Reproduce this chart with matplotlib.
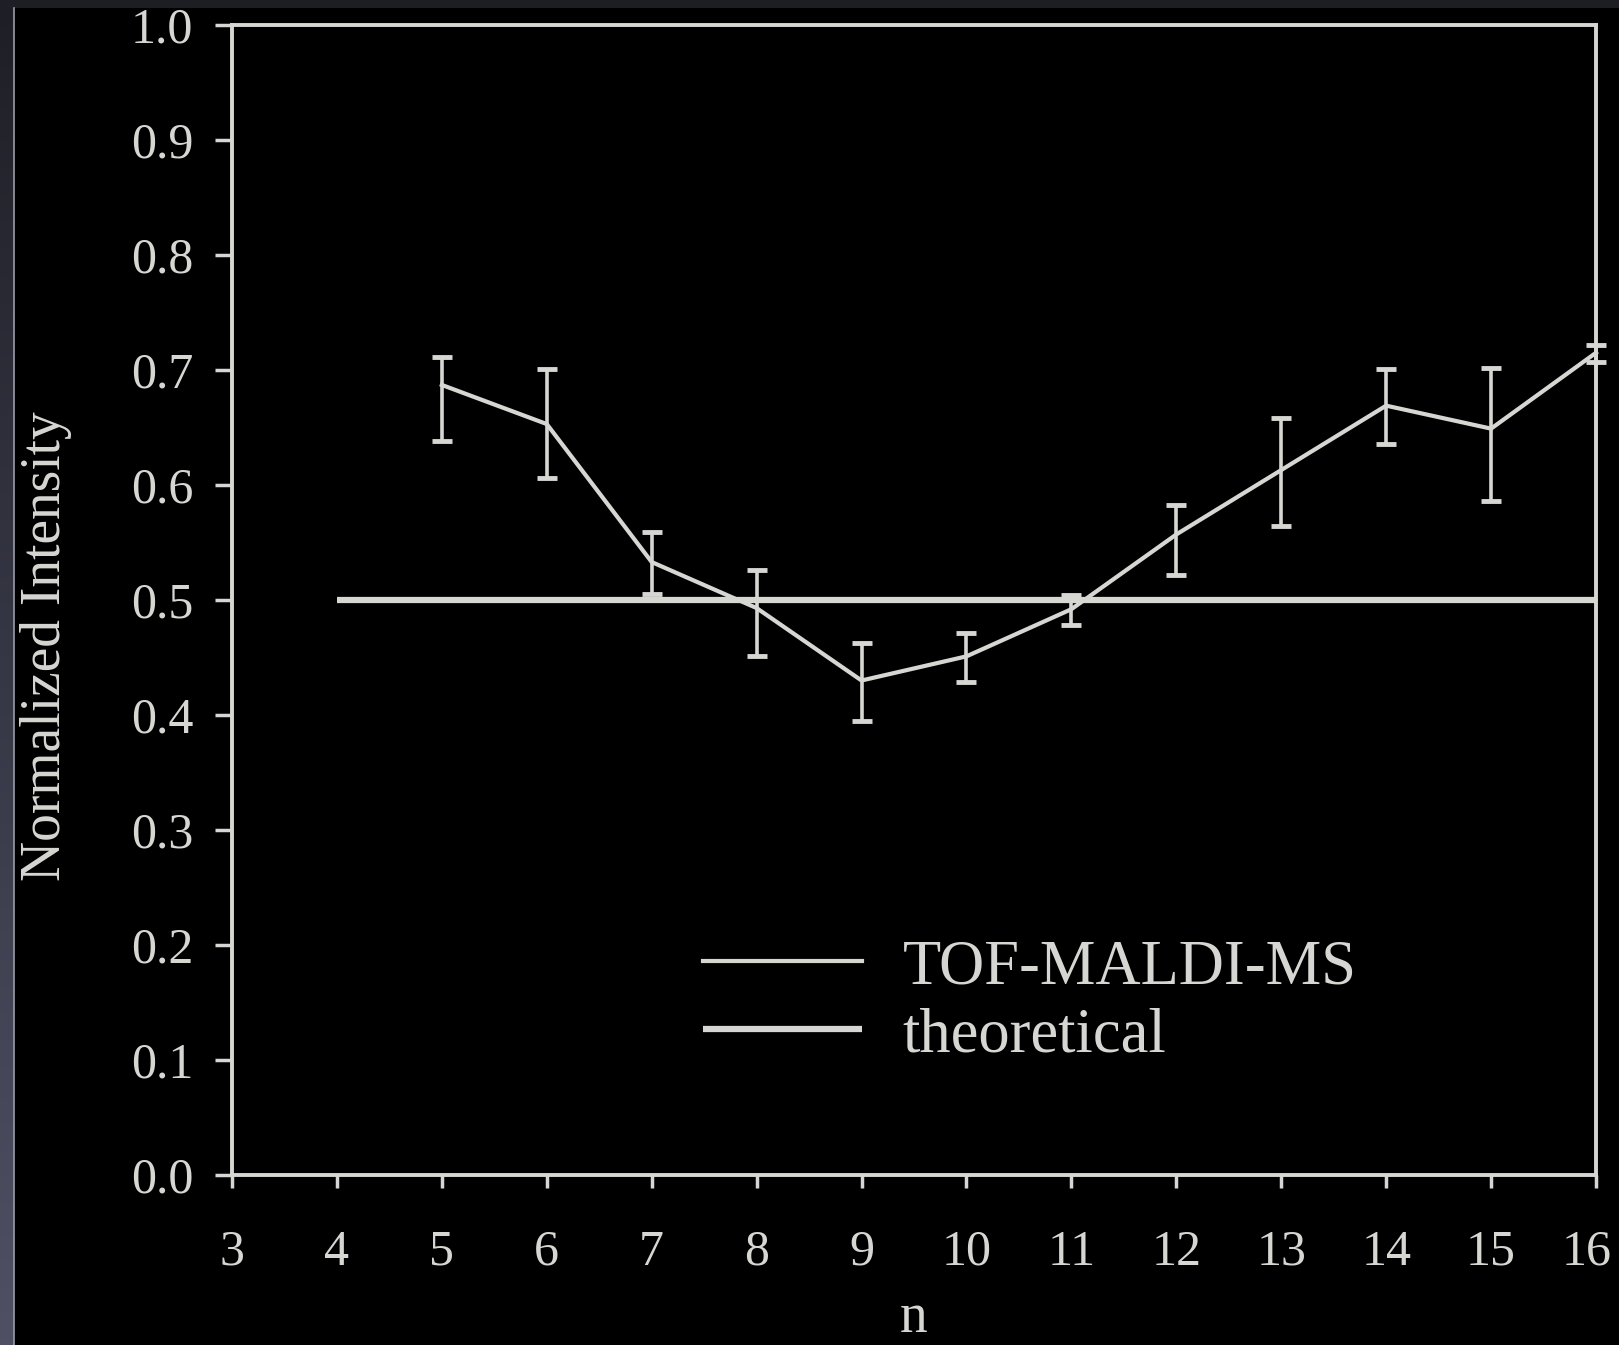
import matplotlib
matplotlib.use("Agg")
import matplotlib.pyplot as plt
from matplotlib.colors import LinearSegmentedColormap
from matplotlib.transforms import ScaledTranslation
import numpy as np

# measured normalized intensity vs. cluster size n
n_values = [5, 6, 7, 8, 9, 10, 11, 12, 13, 14, 15, 16]
intensity = [0.687, 0.653, 0.533, 0.493, 0.430, 0.451, 0.492, 0.557, 0.613, 0.669, 0.649, 0.715]
err_low = [0.049, 0.047, 0.028, 0.042, 0.035, 0.022, 0.014, 0.035, 0.049, 0.033, 0.063, 0.008]
err_high = [0.024, 0.048, 0.026, 0.033, 0.033, 0.020, 0.012, 0.026, 0.045, 0.032, 0.053, 0.007]

# theoretical line
theory_n = [4, 16]
theory_val = [0.5, 0.5]

x_ticks = list(range(3, 17))
y_ticks = [0.0, 0.1, 0.2, 0.3, 0.4, 0.5, 0.6, 0.7, 0.8, 0.9, 1.0]

FG = "#d6d7d2"
W, H = 1619, 1345

plt.rcParams["font.family"] = ["Liberation Serif", "DejaVu Serif"]

fig = plt.figure(figsize=(W / 100, H / 100), dpi=100, facecolor="black")

# screenshot border on the left and top
strip = fig.add_axes([0, 0, 13 / W, 1])
grad = np.linspace(0, 1, 256).reshape(-1, 1)
cmap = LinearSegmentedColormap.from_list("edge", ["#4f5064", "#1e1f26"])
strip.imshow(grad, aspect="auto", cmap=cmap, origin="lower", extent=[0, 1, 0, 1])
strip.axis("off")
fig.add_artist(plt.Line2D([13.5 / W, 13.5 / W], [0, 1 - 8 / H], color="#9a9ba6", lw=1.2))
fig.add_artist(plt.Rectangle((13 / W, 1 - 8 / H), 1, 8 / H, color="#1d1e24", lw=0))

ax = fig.add_axes([232 / W, 170 / H, (1596 - 232) / W, (1320 - 170) / H], facecolor="black")

eb = ax.errorbar(n_values, intensity, yerr=[err_low, err_high], color=FG, lw=3.0,
                 elinewidth=2.6, capsize=7, capthick=3.5, label="TOF-MALDI-MS")
theory, = ax.plot(theory_n, theory_val, color=FG, lw=4.5, solid_capstyle="butt",
                  label="theoretical")
eb[0].set_clip_on(False)
for c in list(eb[1]) + list(eb[2]):
    c.set_clip_on(False)

ax.set_xlim(3, 16)
ax.set_ylim(0, 1.0)
ax.set_xticks(x_ticks)
ax.set_yticks(y_ticks)
ax.set_yticklabels([f"{v:.1f}" for v in y_ticks])

for s in ax.spines.values():
    s.set_color(FG)
    s.set_linewidth(2.8)

ax.tick_params(axis="y", direction="out", length=12, width=2.5, colors=FG,
               labelsize=36, pad=16)
ax.tick_params(axis="x", direction="out", length=9, width=2.5, colors=FG,
               labelsize=36, pad=30)

# last x label sits a little left of its tick in the original
last = ax.get_xticklabels()[-1]
last.set_transform(last.get_transform() + ScaledTranslation(-7 / 72, 0, fig.dpi_scale_trans))

ax.set_ylabel("Normalized Intensity", color=FG, fontsize=40)
ax.yaxis.set_label_coords(-0.117, 0.46)
ax.set_xlabel("n", color=FG, fontsize=40, labelpad=12)

leg_line = plt.Line2D([], [], color=FG, lw=3.0)
ax.legend([leg_line, theory], ["TOF-MALDI-MS", "theoretical"],
          loc="upper left", bbox_to_anchor=(0.345, 0.205),
          frameon=False, fontsize=45, handlelength=2.55, handletextpad=0.65,
          labelspacing=0.16, borderpad=0, borderaxespad=0, labelcolor=FG)

fig.savefig("out.png", dpi=100, facecolor="black")
